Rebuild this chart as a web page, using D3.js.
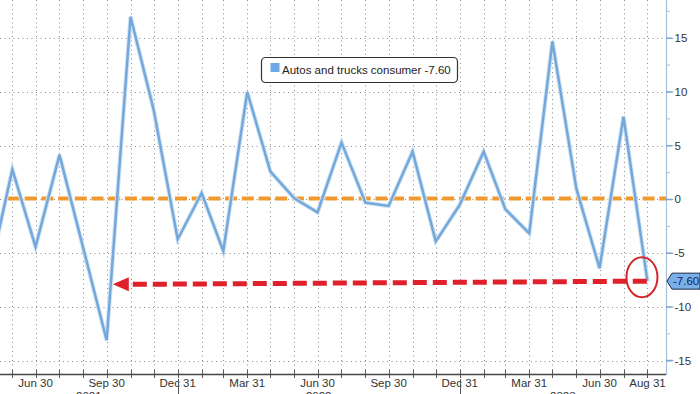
<!DOCTYPE html>
<html>
<head>
<meta charset="utf-8">
<script src="https://cdn.jsdelivr.net/npm/d3@7"></script>
<style>
  html, body { margin: 0; padding: 0; background: #fff; }
  svg { display: block; font-family: "Liberation Sans", Arial, sans-serif; }
</style>
</head>
<body>
<div id="chart"></div>
<script>
// monthly readings, month-end
const months = ["2021-04","2021-05","2021-06","2021-07","2021-08","2021-09","2021-10","2021-11","2021-12",
                "2022-01","2022-02","2022-03","2022-04","2022-05","2022-06","2022-07","2022-08","2022-09","2022-10","2022-11","2022-12",
                "2023-01","2023-02","2023-03","2023-04","2023-05","2023-06","2023-07","2023-08"];
const values = [-7.3, 2.8, -4.4, 4.15, -4.6, -13.1, 17.0, 8.3, -3.7,
                0.6, -4.8, 10.0, 2.6, 0.1, -1.2, 5.3, -0.3, -0.6, 4.45, -3.9, -0.5,
                4.45, -0.9, -3.15, 14.7, 1.0, -6.4, 7.7, -7.6];

const xTickDates  = ["2021-06-30","2021-09-30","2021-12-31","2022-03-31","2022-06-30","2022-09-30","2022-12-31","2023-03-31","2023-06-30","2023-08-31"];
const xTickLabels = ["Jun 30","Sep 30","Dec 31","Mar 31","Jun 30","Sep 30","Dec 31","Mar 31","Jun 30","Aug 31"];
const years = ["2021","2022","2023"];
const yTicks = [15, 10, 5, 0, -5, -10, -15];

const seriesName = "Autos and trucks consumer";
const lastLabel = "-7.60";
const refLevel = 0;                      // orange dashed line
const arrowFrom = ["2021-10-08", -7.9];  // red dashed annotation
const arrowTo   = ["2023-08-31", -7.6];

const W = 700, H = 394;
const plotR = 666, axisY = 374;
const fs = 11.5;

const parse = d3.timeParse("%Y-%m-%d");
const monthEnd = m => { const [y, mo] = m.split("-").map(Number); return new Date(y, mo, 0); };
const data = months.map((m, i) => ({ date: monthEnd(m), value: values[i] }));

const x = d3.scaleTime().domain([new Date(2021, 4, 15), new Date(2023, 8, 24)]).range([0, plotR]);
const y = d3.scaleLinear().domain([-16.24, 18.56]).range([axisY, 0]);

const svg = d3.select('#chart').append('svg').attr('width', W).attr('height', H);

svg.append('clipPath').attr('id', 'plot').append('rect').attr('x', 0).attr('y', 0).attr('width', plotR).attr('height', axisY);

// grid
const grid = svg.append('g').attr('stroke', '#8a8a8a').attr('stroke-width', 1).attr('stroke-dasharray', '1,3.5');
const gridMonths = d3.timeMonth.range(new Date(2021, 4, 1), new Date(2023, 8, 1)).map(d => new Date(d.getFullYear(), d.getMonth() + 1, 0));
grid.selectAll('line.v').data(gridMonths).enter().append('line')
  .attr('x1', d => Math.round(x(d)) + 0.5).attr('x2', d => Math.round(x(d)) + 0.5)
  .attr('y1', 0).attr('y2', axisY);
grid.selectAll('line.h').data(yTicks).enter().append('line')
  .attr('x1', 0).attr('x2', plotR)
  .attr('y1', d => Math.round(y(d)) + 0.5).attr('y2', d => Math.round(y(d)) + 0.5);

// orange reference line
svg.append('line').attr('x1', 8).attr('x2', plotR).attr('y1', y(refLevel) - 1).attr('y2', y(refLevel) - 1)
  .attr('stroke', '#f0992e').attr('stroke-width', 4).attr('stroke-dasharray', '12,4.7');

// series line
const line = d3.line().x(d => x(d.date)).y(d => y(d.value));
svg.append('path').datum(data).attr('clip-path', 'url(#plot)').attr('d', line)
  .attr('fill', 'none').attr('stroke', '#d3e5f5').attr('stroke-width', 4.5).attr('stroke-linejoin', 'miter');
svg.append('path').datum(data).attr('clip-path', 'url(#plot)').attr('d', line)
  .attr('fill', 'none').attr('stroke', '#74a8da').attr('stroke-width', 2.5).attr('stroke-linejoin', 'miter');

// red arrow annotation
const ax1 = x(parse(arrowFrom[0])), ay1 = y(arrowFrom[1]);
const ax2 = x(parse(arrowTo[0])), ay2 = y(arrowTo[1]);
svg.append('line').attr('x1', ax1 + 20).attr('y1', ay1).attr('x2', ax2).attr('y2', ay2)
  .attr('stroke', '#e0202a').attr('stroke-width', 5).attr('stroke-dasharray', '14,6');
svg.append('path').attr('d', `M${ax1},${ay1} L${ax1 + 16},${ay1 - 7} L${ax1 + 16},${ay1 + 7} Z`).attr('fill', '#e0202a');

// red ellipse around the last point
const last = data[data.length - 1];
svg.append('ellipse').attr('cx', x(last.date) - 5.5).attr('cy', y(last.value) - 4)
  .attr('rx', 15.5).attr('ry', 20).attr('fill', 'none').attr('stroke', '#d1262c').attr('stroke-width', 2);

// bottom axis
const bx = svg.append('g');
bx.append('line').attr('x1', 0).attr('x2', plotR).attr('y1', axisY + 0.5).attr('y2', axisY + 0.5).attr('stroke', '#444').attr('stroke-width', 1.5);
bx.selectAll('line.t').data(gridMonths).enter().append('line')
  .attr('x1', d => Math.round(x(d)) + 0.5).attr('x2', d => Math.round(x(d)) + 0.5)
  .attr('y1', axisY - 4).attr('y2', axisY + 4).attr('stroke', '#555');
bx.selectAll('text.m').data(xTickDates).enter().append('text')
  .attr('x', d => x(parse(d))).attr('y', axisY + 12.5).attr('text-anchor', 'middle')
  .attr('font-size', fs).attr('fill', '#333').text((d, i) => xTickLabels[i]);
const yearBounds = [x.domain()[0], new Date(2021, 11, 31), new Date(2022, 11, 31), x.domain()[1]];
bx.selectAll('line.yr').data(yearBounds.slice(1, 3)).enter().append('line')
  .attr('x1', d => Math.round(x(d)) + 0.5).attr('x2', d => Math.round(x(d)) + 0.5)
  .attr('y1', axisY + 5).attr('y2', H).attr('stroke', '#555');
bx.selectAll('text.yr').data(years).enter().append('text')
  .attr('x', (d, i) => (x(yearBounds[i]) + x(yearBounds[i + 1])) / 2).attr('y', 399.5)
  .attr('text-anchor', 'middle').attr('font-size', fs).attr('fill', '#333').text(d => d);

// right axis
const ry = svg.append('g');
ry.append('line').attr('x1', plotR + 0.5).attr('x2', plotR + 0.5).attr('y1', 0).attr('y2', axisY + 1).attr('stroke', '#a7c1dc').attr('stroke-width', 1.2);
ry.selectAll('line.minor').data(d3.range(-15, 18.6, 2.5)).enter().append('line')
  .attr('x1', plotR).attr('x2', plotR + 4).attr('y1', d => y(d)).attr('y2', d => y(d)).attr('stroke', '#a7c1dc');
ry.selectAll('path.major').data(yTicks).enter().append('path')
  .attr('d', d => `M${plotR},${y(d) - 0.8} L${plotR + 6},${y(d) - 0.8} L${plotR + 8},${y(d)} L${plotR + 6},${y(d) + 0.8} L${plotR},${y(d) + 0.8} Z`)
  .attr('fill', '#7fa6cf');
ry.selectAll('text').data(yTicks).enter().append('text')
  .attr('x', plotR + 8.5).attr('y', d => y(d) + 4).attr('font-size', fs).attr('fill', '#333')
  .text(d => d);

// last value tag
const ly = y(last.value);
svg.append('path').attr('d', `M${plotR + 1},${ly} L${plotR + 6},${ly - 8} L${W},${ly - 8} L${W},${ly + 8} L${plotR + 6},${ly + 8} Z`)
  .attr('fill', '#79b0ea').attr('stroke', '#1c2a44').attr('stroke-width', 1);
svg.append('text').attr('x', plotR + 7).attr('y', ly + 4).attr('font-size', fs).attr('fill', '#13264f').text(lastLabel);

// legend
const lg = svg.append('g');
lg.append('rect').attr('x', 261.5).attr('y', 57.5).attr('width', 196).attr('height', 25).attr('rx', 4)
  .attr('fill', '#fff').attr('stroke', '#333').attr('stroke-width', 1.2);
lg.append('rect').attr('x', 270.5).attr('y', 63).attr('width', 9).attr('height', 9).attr('fill', '#6fa8e6');
lg.append('text').attr('x', 282).attr('y', 74).attr('font-size', fs).attr('fill', '#222')
  .text(`${seriesName} ${lastLabel}`);
</script>
</body>
</html>
